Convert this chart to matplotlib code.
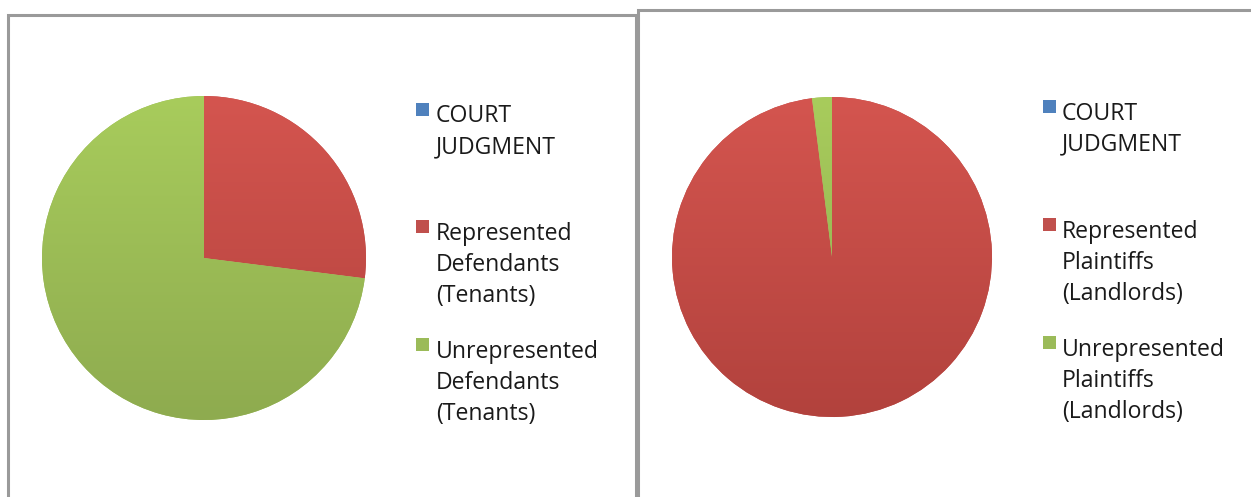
import numpy as np
import matplotlib
matplotlib.use("Agg")
import matplotlib.pyplot as plt
from matplotlib.patches import Rectangle
from matplotlib.colors import to_rgb

# ---- data ----
left_labels = ["COURT\nJUDGMENT", "Represented\nDefendants\n(Tenants)", "Unrepresented\nDefendants\n(Tenants)"]
left_values = [0, 27, 73]
right_labels = ["COURT\nJUDGMENT", "Represented\nPlaintiffs\n(Landlords)", "Unrepresented\nPlaintiffs\n(Landlords)"]
right_values = [0, 98, 2]

base_colors = ["#4F81BD", "#C0504D", "#9BBB59"]
top_colors = ["#5a8fd0", "#d4554f", "#a8cc5c"]
bot_colors = ["#3f6ca3", "#b2423d", "#8eab4f"]

W, H = 1251, 497
fig = plt.figure(figsize=(W / 100, H / 100), dpi=100)
fig.patch.set_facecolor("white")
FONT = "Open Sans"


def px_axes(cx, cy, r):
    return fig.add_axes([(cx - r) / W, 1 - (cy + r) / H, 2 * r / W, 2 * r / H])


def draw_pie(ax, values):
    wedges, _ = ax.pie(values, colors=base_colors, startangle=90, counterclock=False,
                       wedgeprops=dict(linewidth=0))
    for i, w in enumerate(wedges):
        if values[i] == 0:
            continue
        t = np.linspace(0, 1, 256)[:, None]
        c0 = np.array(to_rgb(top_colors[i]))
        c1 = np.array(to_rgb(bot_colors[i]))
        grad = (c0[None, None, :] * (1 - t[..., None]) + c1[None, None, :] * t[..., None])
        grad = np.repeat(grad, 2, axis=1)
        im = ax.imshow(grad, extent=(-1, 1, -1, 1), origin="upper", aspect="auto", zorder=2)
        im.set_clip_path(w)
    ax.set_xlim(-1, 1)
    ax.set_ylim(-1, 1)
    ax.set_aspect("equal")
    ax.axis("off")


def draw_legend(labels, sq_x, text_x, y0, step):
    for i, lab in enumerate(labels):
        y = y0 + i * step
        fig.patches.append(Rectangle((sq_x / W, 1 - (y + 6.5) / H), 13 / W, 13 / H,
                                     transform=fig.transFigure, facecolor=base_colors[i],
                                     edgecolor="none"))
        fig.text(text_x / W, 1 - (y - 4.5) / H, lab, fontsize=16.6, family=FONT,
                 color="#1a1a1a", va="top", ha="left", linespacing=1.39)


# panel borders
border = "#9a9a9a"
fig.patches.append(Rectangle((7.5 / W, -0.05), (636 - 7.5) / W, 1.05 - 15 / H,
                             transform=fig.transFigure, fill=False, edgecolor=border, linewidth=2.2))
fig.patches.append(Rectangle((638 / W, -0.05), (1300 - 638) / W, 1.05 - 9.5 / H,
                             transform=fig.transFigure, fill=False, edgecolor=border, linewidth=2.2))

ax1 = px_axes(204, 258, 162)
draw_pie(ax1, left_values)
ax2 = px_axes(832, 257, 160)
draw_pie(ax2, right_values)

draw_legend(left_labels, 416, 436, 109, 117.5)
draw_legend(right_labels, 1043, 1062, 106, 118)

fig.savefig("out.png", dpi=100, facecolor="white")
